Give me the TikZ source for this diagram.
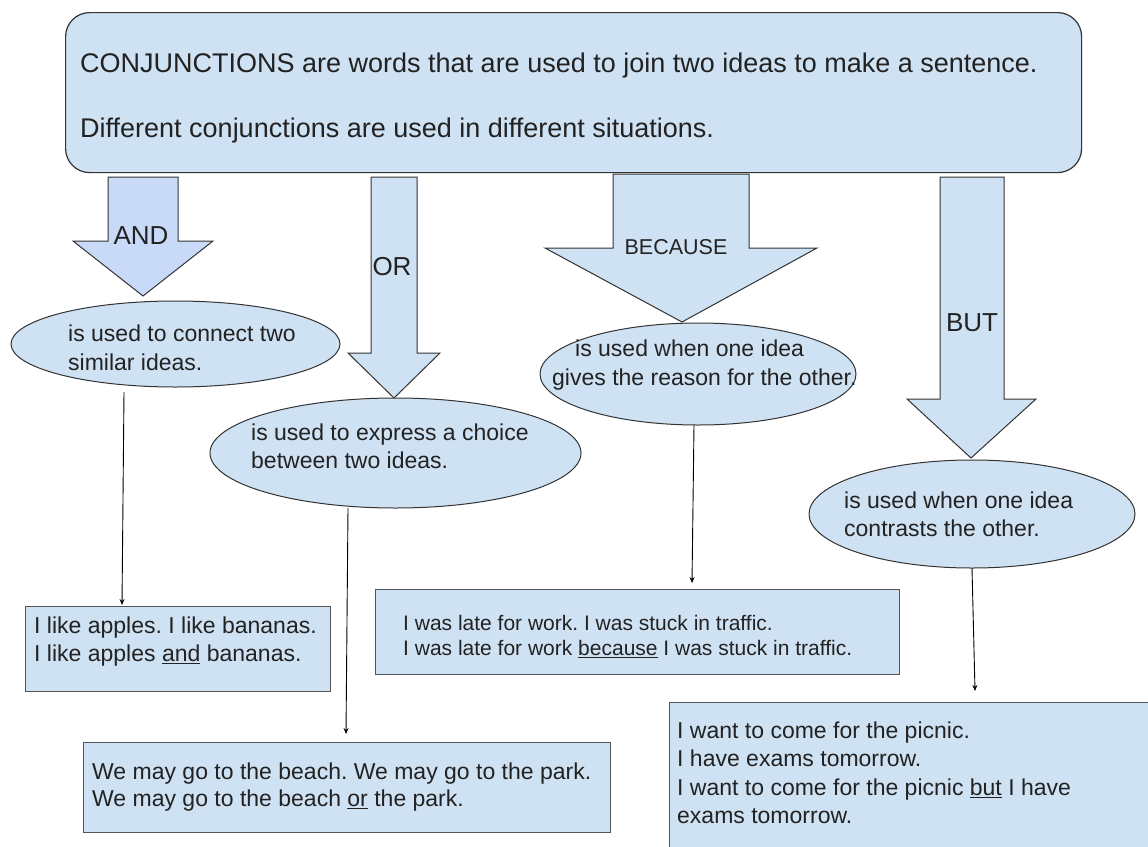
\documentclass[tikz,border=0pt]{standalone}
\usepackage{fontspec}
\setmainfont{Liberation Sans}
\usetikzlibrary{shapes.geometric,arrows.meta}
\definecolor{boxblue}{HTML}{CFE2F3}
\definecolor{andblue}{HTML}{C9DAF8}
\definecolor{edge}{HTML}{333333}
\definecolor{boxedge}{HTML}{555555}
\definecolor{ink}{HTML}{222222}
\frenchspacing
\begin{document}
\begin{tikzpicture}[x=1pt,y=-1pt,
  ell/.style={ellipse,draw=edge,fill=boxblue,line width=1pt,inner sep=0pt},
  exbox/.style={rectangle,draw=boxedge,fill=boxblue,line width=1.3pt,inner sep=0pt,anchor=north west},
  bigarrow/.style={draw=edge,line width=1pt,line join=miter},
  txt/.style={inner sep=0pt,anchor=north west,align=left,text=ink},
  lab/.style={inner sep=0pt,text=ink,font=\fontsize{26}{30}\selectfont},
  conn/.style={draw=black,line width=0.9pt,-{Stealth[length=6pt,width=5pt]}}]
\useasboundingbox (0,0) rectangle (1148,846);
\fill[white] (0,0) rectangle (1148,846);
\clip (0,0) rectangle (1148,846);

% top box
\node[rectangle,rounded corners=24pt,draw=edge,fill=boxblue,line width=1.2pt,
      minimum width=1016pt,minimum height=160pt,inner sep=0pt,anchor=north west] (top) at (65,12) {};
\node[txt,font=\fontsize{27}{32}\selectfont] (toptxt) at (80,53)
  {CONJUNCTIONS are words that are used to join two ideas to make a sentence.\\[32.5pt]
   Different conjunctions are used in different situations.};

% big arrows
\draw[bigarrow,fill=andblue] (108,177) -- (178,177) -- (178,241) -- (213,241) -- (143,296) -- (73,241) -- (108,241) -- cycle;
\node[lab] (andlab) at (141,236) {AND};
\draw[bigarrow,fill=boxblue] (371,177) -- (417,177) -- (417,353) -- (440,353) -- (394,398) -- (348,353) -- (371,353) -- cycle;
\node[lab] (orlab) at (392,267) {OR};
\draw[bigarrow,fill=boxblue] (613,174) -- (749,174) -- (749,248) -- (817,248) -- (682,322) -- (545,248) -- (613,248) -- cycle;
\node[lab,font=\fontsize{21.5}{25}\selectfont] (becauselab) at (676,247) {BECAUSE};
\draw[bigarrow,fill=boxblue] (940,177) -- (1004,177) -- (1004,399) -- (1036,399) -- (971,458) -- (907,399) -- (940,399) -- cycle;
\node[lab] (butlab) at (972,323) {BUT};

% ellipses
\node[ell,minimum width=329pt,minimum height=86pt] (e1) at (175.5,344) {};
\node[txt,font=\fontsize{23}{29}\selectfont] (e1txt) at (68,324.5) {is used to connect two\\similar ideas.};
\node[ell,minimum width=371pt,minimum height=110pt] (e2) at (395.5,453) {};
\node[txt,font=\fontsize{23}{28}\selectfont] (e2txt) at (251,423.5) {is used to express a choice\\between two ideas.};
\node[ell,minimum width=316pt,minimum height=102pt] (e3) at (698,374) {};
\node[txt,font=\fontsize{23}{29}\selectfont] (e3txt) at (552,339.5) {\hspace*{23pt}is used when one idea\\gives the reason for the other.};
\node[ell,minimum width=326pt,minimum height=108pt] (e4) at (972,514) {};
\node[txt,font=\fontsize{23}{28}\selectfont] (e4txt) at (844,491.5) {is used when one idea\\contrasts the other.};

% example boxes
\node[exbox,minimum width=305pt,minimum height=85pt] (b1) at (25,606) {};
\node[txt,font=\fontsize{23}{28}\selectfont] (b1txt) at (34,616.5) {I like apples. I like bananas.\\I like apples \underline{and} bananas.};
\node[exbox,minimum width=527pt,minimum height=90pt] (b2) at (83,742) {};
\node[txt,font=\fontsize{23}{27}\selectfont] (b2txt) at (92,762.5) {We may go to the beach. We may go to the park.\\We may go to the beach \underline{or} the park.};
\node[exbox,minimum width=524pt,minimum height=85pt] (b3) at (375,589) {};
\node[txt,font=\fontsize{21}{25}\selectfont] (b3txt) at (403,615.5) {I was late for work. I was stuck in traffic.\\I was late for work \underline{because} I was stuck in traffic.};
\node[exbox,minimum width=500pt,minimum height=190pt] (b4) at (669,702) {};
\node[txt,font=\fontsize{23}{28.5}\selectfont] (b4txt) at (677,721.5) {I want to come for the picnic.\\I have exams tomorrow.\\I want to come for the picnic \underline{but} I have\\exams tomorrow.};

% connectors
\coordinate (c1s) at (124,392);
\coordinate (c1e) at (122,605);
\coordinate (c2s) at (348,508);
\coordinate (c2e) at (346,734);
\coordinate (c3s) at (694,425);
\coordinate (c3e) at (692,583);
\coordinate (c4s) at (972,568);
\coordinate (c4e) at (975,691);
\draw[conn] (c1s) -- (c1e);
\draw[conn] (c2s) -- (c2e);
\draw[conn] (c3s) -- (c3e);
\draw[conn] (c4s) -- (c4e);
\end{tikzpicture}
\end{document}
